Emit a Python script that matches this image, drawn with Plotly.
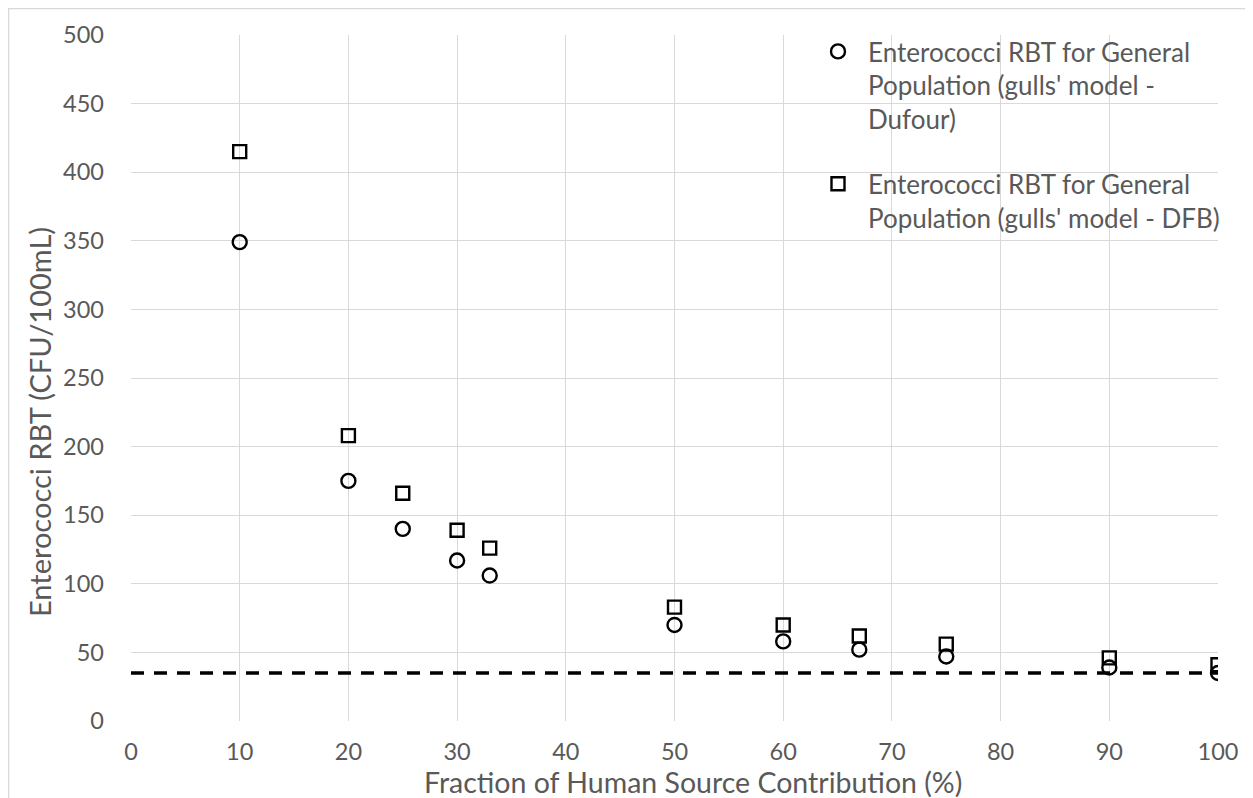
import plotly.graph_objects as go

fraction_pct = [10, 20, 25, 30, 33, 50, 60, 67, 75, 90, 100]
rbt_dufour = [349, 175, 140, 117, 106, 70, 58, 52, 47, 39, 35]
rbt_dfb = [415, 208, 166, 139, 126, 83, 70, 62, 56, 46, 41]
threshold_x = [0, 100]
threshold_y = [35, 35]

name_dufour = "Enterococci RBT for General<br>Population (gulls' model -<br>Dufour)"
name_dfb = "Enterococci RBT for General<br>Population (gulls' model - DFB)"
x_title = "Fraction of Human Source Contribution (%)"
y_title = "Enterococci RBT (CFU/100mL)"

FONT = "Lato, 'Open Sans', sans-serif"
TXT = "#595959"
GRID = "#d9d9d9"

# plot area (figure pixels)
L, R, T, B = 123, 1210, 27, 713
W, H = 1245, 790
PW, PH = R - L, B - T

fig = go.Figure()
fig.add_trace(go.Scatter(
    x=threshold_x, y=threshold_y, mode="lines", showlegend=False,
    line=dict(color="black", width=3.5, dash="13px,10px"), hoverinfo="skip"))
fig.add_trace(go.Scatter(
    x=fraction_pct, y=rbt_dufour, mode="markers", name=name_dufour,
    legendgroup="a",
    marker=dict(symbol="circle-open", size=14, color="black",
                line=dict(width=2.4, color="black"))))
fig.add_trace(go.Scatter(
    x=fraction_pct, y=rbt_dfb, mode="markers", name=name_dfb,
    legendgroup="b",
    marker=dict(symbol="square-open", size=13, color="black",
                line=dict(width=2.4, color="black"))))

fig.update_layout(
    width=W, height=H,
    margin=dict(l=L, r=W - R, t=T, b=H - B),
    paper_bgcolor="white", plot_bgcolor="white",
    font=dict(family=FONT, size=23.5, color=TXT),
    showlegend=True,
    legend=dict(x=(800 - L) / PW, y=(B - 20) / PH, xanchor="left", yanchor="top",
                bgcolor="rgba(0,0,0,0)", font=dict(size=26, color=TXT),
                traceorder="grouped", tracegroupgap=28, valign="top",
                itemwidth=50),
    xaxis=dict(range=[0, 100], dtick=10, tick0=0, showgrid=True,
               gridcolor=GRID, gridwidth=1.3, zeroline=False, showline=False,
               ticks="", ticklabelstandoff=14,
               tickfont=dict(size=23.5, color=TXT)),
    yaxis=dict(range=[0, 500], dtick=50, tick0=0, showgrid=True,
               gridcolor=GRID, gridwidth=1.3, zeroline=False, showline=False,
               ticks="", ticklabelstandoff=26,
               tickfont=dict(size=23.5, color=TXT)),
    annotations=[
        dict(text=x_title, xref="paper", yref="paper", x=(685 - L) / PW,
             y=(B - 774) / PH, xanchor="center", yanchor="middle",
             showarrow=False, font=dict(size=28.5, color=TXT)),
        dict(text=y_title, xref="paper", yref="paper", x=(32 - L) / PW,
             y=(B - 414) / PH, xanchor="center", yanchor="middle",
             textangle=-90, showarrow=False, font=dict(size=29, color=TXT)),
    ],
    shapes=[
        dict(type="rect", xref="paper", yref="paper",
             x0=(0.7 - L) / PW, x1=1.3, y0=-0.3, y1=(B - 0.7) / PH,
             line=dict(color="#d9d9d9", width=1.3), layer="below"),
    ],
)

fig.write_html("out.html")
